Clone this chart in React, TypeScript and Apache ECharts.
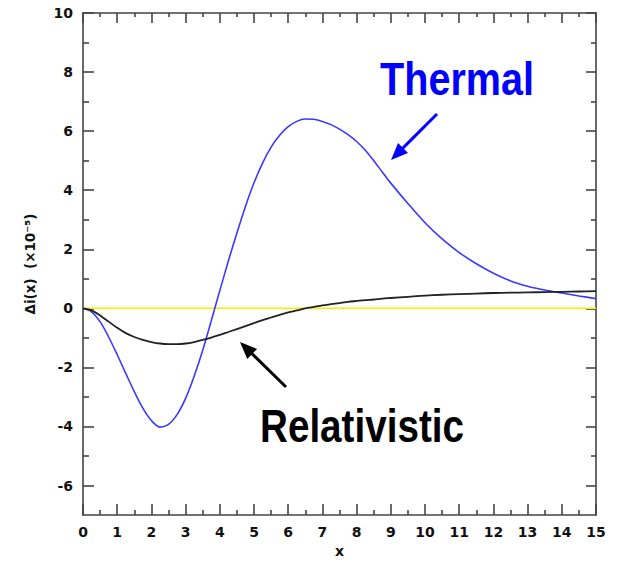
import React, { useEffect, useRef } from "react";
import * as echarts from "echarts";

const xValues = [
  0, 0.25, 0.5, 0.75, 1, 1.25, 1.5, 1.75, 2, 2.25, 2.5, 2.75, 3, 3.25, 3.5, 3.75,
  4, 4.25, 4.5, 4.75, 5, 5.25, 5.5, 5.75, 6, 6.25, 6.5, 6.75, 7, 7.25, 7.5, 7.75,
  8, 8.25, 8.5, 8.75, 9, 9.5, 10, 10.5, 11, 11.5, 12, 12.5, 13, 13.5, 14, 14.5, 15,
];
const thermal = [
  0, -0.12, -0.45, -0.97, -1.57, -2.2, -2.82, -3.38, -3.8, -4.02, -3.93, -3.6, -3.05, -2.3, -1.42, -0.42,
  0.6, 1.6, 2.55, 3.45, 4.25, 4.92, 5.46, 5.86, 6.15, 6.33, 6.41, 6.4, 6.33, 6.22, 6.07, 5.88,
  5.65, 5.36, 5.0, 4.62, 4.24, 3.55, 2.9, 2.35, 1.89, 1.51, 1.19, 0.93, 0.75, 0.62, 0.52, 0.42, 0.33,
];
const relativistic = [
  0, -0.07, -0.24, -0.45, -0.66, -0.84, -0.97, -1.07, -1.14, -1.19, -1.21, -1.21, -1.19, -1.14, -1.07, -0.99,
  -0.9, -0.8, -0.7, -0.6, -0.5, -0.4, -0.31, -0.22, -0.14, -0.07, 0.0, 0.05, 0.1, 0.14, 0.18, 0.22,
  0.25, 0.28, 0.3, 0.33, 0.35, 0.39, 0.43, 0.46, 0.48, 0.5, 0.52, 0.53, 0.54, 0.55, 0.56, 0.57, 0.58,
];
const baseline = [[0, 0], [15, 0]];
const yMajorTicks = [-6, -4, -2, 0, 2, 4, 6, 8, 10];
const yMinorTicks = [-5, -3, -1, 1, 3, 5, 7, 9];

const AXIS_COLOR = "#444";
const LABEL_FONT = "DejaVu Sans";

function arrow(x1: number, y1: number, x2: number, y2: number, color: string) {
  const dx = x2 - x1, dy = y2 - y1;
  const len = Math.sqrt(dx * dx + dy * dy);
  const ux = dx / len, uy = dy / len;
  const hl = 17, hw = 7;
  const bx = x2 - ux * hl, by = y2 - uy * hl;
  const px = -uy, py = ux;
  return [
    { type: "line", shape: { x1, y1, x2: bx + ux * 2, y2: by + uy * 2 }, style: { stroke: color, lineWidth: 3 } },
    {
      type: "polygon",
      shape: { points: [[x2, y2], [bx + px * hw, by + py * hw], [bx - px * hw, by - py * hw]] },
      style: { fill: color },
    },
  ];
}

export default function App() {
  const ref = useRef<HTMLDivElement>(null);
  useEffect(() => {
    if (!ref.current) return;
    const chart = echarts.init(ref.current, null, { renderer: "svg" });
    const thermalData = xValues.map((x, i) => [x, thermal[i]]);
    const relData = xValues.map((x, i) => [x, relativistic[i]]);
    const yBase = (position: string, showLine: boolean) => ({
      type: "value",
      min: -7,
      max: 10,
      interval: 1,
      position,
      splitLine: { show: false },
      axisLine: { show: showLine, onZero: false, lineStyle: { color: AXIS_COLOR, width: 1.6 } },
    });
    const labelStyle = { color: "#111", fontFamily: LABEL_FONT, fontWeight: "bold", fontSize: 14 };
    const xBase = (position: string, showLabels: boolean, major: number, minor: number) => ({
      type: "value",
      min: 0,
      max: 15,
      interval: 1,
      position,
      splitLine: { show: false },
      axisLine: { show: true, onZero: false, lineStyle: { color: AXIS_COLOR, width: 1.6 } },
      axisTick: { show: true, inside: true, length: major, lineStyle: { color: AXIS_COLOR, width: 1.6 } },
      minorTick: { show: true, splitNumber: 2, length: minor, lineStyle: { color: AXIS_COLOR, width: 1.6 } },
      axisLabel: showLabels ? { show: true, margin: 10, ...labelStyle } : { show: false },
    });
    const textFont = "bold 46px 'Liberation Sans', sans-serif";
    chart.setOption({
      animation: false,
      backgroundColor: "#fff",
      grid: { left: 83, right: 22, top: 13, bottom: 40, containLabel: false },
      xAxis: [
        {
          ...xBase("bottom", true, 11, 5),
          name: "x",
          nameLocation: "middle",
          nameGap: 28,
          nameTextStyle: labelStyle,
        },
        xBase("top", false, 10, 4),
      ],
      yAxis: [
        {
          ...yBase("left", true),
          axisTick: { show: true, inside: true, length: 11, customValues: yMajorTicks, lineStyle: { color: AXIS_COLOR, width: 1.6 } },
          axisLabel: { show: true, customValues: yMajorTicks, margin: 10, ...labelStyle },
          name: "\u0394i(x)  (\u00d710\u207b\u2075)",
          nameLocation: "middle",
          nameGap: 46,
          nameTextStyle: { color: "#111", fontFamily: LABEL_FONT, fontWeight: "bold", fontSize: 13.5 },
        },
        {
          ...yBase("left", false),
          axisTick: { show: true, inside: true, length: 6, customValues: yMinorTicks, lineStyle: { color: AXIS_COLOR, width: 1.6 } },
          axisLabel: { show: false },
        },
        {
          ...yBase("right", true),
          axisTick: { show: true, inside: true, length: 10, customValues: yMajorTicks, lineStyle: { color: AXIS_COLOR, width: 1.6 } },
          axisLabel: { show: false },
        },
        {
          ...yBase("right", false),
          axisTick: { show: true, inside: true, length: 5, customValues: yMinorTicks, lineStyle: { color: AXIS_COLOR, width: 1.6 } },
          axisLabel: { show: false },
        },
      ],
      series: [
        {
          type: "line",
          name: "zero",
          data: baseline,
          showSymbol: false,
          lineStyle: { color: "#f2f200", width: 1.5 },
          z: 1,
        },
        {
          type: "line",
          name: "Thermal",
          data: thermalData,
          smooth: 0.3,
          showSymbol: false,
          lineStyle: { color: "#3a3aff", width: 1.6 },
          z: 2,
        },
        {
          type: "line",
          name: "Relativistic",
          data: relData,
          smooth: 0.3,
          showSymbol: false,
          lineStyle: { color: "#222", width: 1.8 },
          z: 3,
        },
      ],
      graphic: [
        {
          type: "text",
          x: 457,
          y: 79,
          scaleX: 0.86,
          style: {
            text: "Thermal",
            fill: "#0000ff",
            font: textFont,
            textAlign: "center",
            textVerticalAlign: "middle",
          },
        },
        {
          type: "text",
          x: 362,
          y: 426,
          scaleX: 0.84,
          style: {
            text: "Relativistic",
            fill: "#000",
            font: textFont,
            textAlign: "center",
            textVerticalAlign: "middle",
          },
        },
        ...arrow(437, 114, 391, 160, "#0000ff"),
        ...arrow(286, 387, 240, 342, "#000"),
      ],
    });
    return () => chart.dispose();
  }, []);
  return <div ref={ref} style={{ position: "fixed", left: 0, top: 0, width: 618, height: 563 }} />;
}
